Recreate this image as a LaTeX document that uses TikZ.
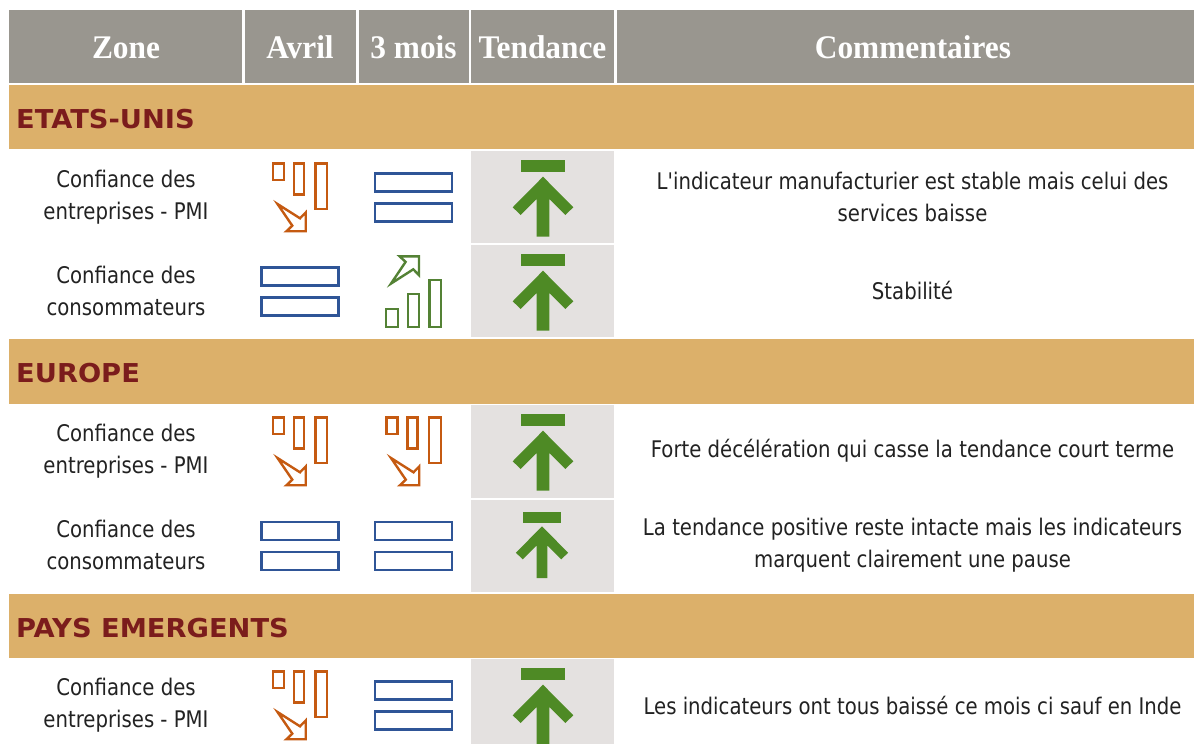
\documentclass[tikz,border=0pt]{standalone}
\usepackage{fontspec}
\newfontfamily\hdrfont{Liberation Serif}[FakeStretch=0.95]
\newfontfamily\bodyfont{DejaVu Sans}[FakeStretch=0.86]
\newfontfamily\bandfont{DejaVu Sans}[FakeStretch=1.05]
\definecolor{hdrgrey}{HTML}{99968F}
\definecolor{tan}{HTML}{DCB06A}
\definecolor{cellgrey}{HTML}{E4E1E0}
\definecolor{trendgreen}{HTML}{4E8A25}
\definecolor{orangeic}{HTML}{C55A11}
\definecolor{blueic}{HTML}{2F5597}
\definecolor{greenic}{HTML}{548235}
\definecolor{bandred}{HTML}{7B1C1C}
\definecolor{bodytxt}{HTML}{222222}
\tikzset{
  hdr/.style={font=\hdrfont\bfseries\fontsize{33}{36}\selectfont, text=white, anchor=base, inner sep=0pt},
  band/.style={font=\bandfont\bfseries\fontsize{26}{30}\selectfont, text=bandred, anchor=base west, inner sep=0pt},
  body/.style={font=\bodyfont\fontsize{22.9}{31.5}\selectfont, text=bodytxt, align=center, inner sep=0pt},
  hdrcell/.style={fill=hdrgrey, draw=none},
  bandcell/.style={fill=tan, draw=none},
  greycell/.style={fill=cellgrey, draw=none},
  downicon/.pic={
    \draw[orangeic, line width=2.4pt, line join=miter]
      (-27.2,12.4) rectangle (-16.1,28.9)
      (-6.2,12.4) rectangle (3.9,43.6)
      (15.4,12.4) rectangle (27.2,57.9);
    \draw[orangeic, line width=2.4pt, line join=miter]
      (-22.5,53) -- (0,67.3) -- (5.7,61.5) -- (5.7,80.2) -- (-13.5,80.2) -- (-7.7,74.7) -- cycle;
  },
  upicon/.pic={
    \draw[greenic, line width=2.4pt, line join=miter]
      (-27.3,64.2) rectangle (-15.7,81.8)
      (-5.8,49.2) rectangle (5.3,81.8)
      (16,34.9) rectangle (27.6,81.8);
    \draw[greenic, line width=2.4pt, line join=miter]
      (5.5,11.4) -- (5.5,30.2) -- (-0.2,24.3) -- (-22.5,38.6) -- (-7.9,16.9) -- (-13.8,11.4) -- cycle;
  },
  eqicon/.pic={
    \draw[blueic, line width=2.4pt]
      (-38.5,22.5) rectangle (38.5,40.5)
      (-38.5,52.5) rectangle (38.5,70.5);
  },
  trend/.pic={
    \fill[trendgreen] (-22.3,9) rectangle (22.3,21.3);
    \fill[trendgreen] (0,25.7) -- (30.3,56.3) -- (22.3,64) -- (6.3,48) -- (6.3,85.7)
      -- (-6.3,85.7) -- (-6.3,48) -- (-22.3,64) -- (-30.3,56.3) -- cycle;
  },
}
\begin{document}
\begin{tikzpicture}[x=1pt,y=-1pt]
\fill[white] (0,0) rectangle (1194,744);
\useasboundingbox (0,0) rectangle (1194,744);
\begin{scope}
\clip (0,0) rectangle (1194,744);
% header cells
\fill[hdrcell] (9,10) rectangle (242,83);
\fill[hdrcell] (244.5,10) rectangle (356,83);
\fill[hdrcell] (358.5,10) rectangle (469,83);
\fill[hdrcell] (471,10) rectangle (614,83);
\fill[hdrcell] (616.5,10) rectangle (1194,83);
% bands
\fill[bandcell] (9,85) rectangle (1194,149);
\fill[bandcell] (9,339) rectangle (1194,403.5);
\fill[bandcell] (9,594) rectangle (1194,657.7);
% tendance grey cells
\fill[greycell] (471,151) rectangle (614,243);
\fill[greycell] (471,245) rectangle (614,337);
\fill[greycell] (471,405) rectangle (614,497.5);
\fill[greycell] (471,499.5) rectangle (614,591.5);
\fill[greycell] (471,659) rectangle (614,744);
\end{scope}
% header texts
\node[hdr] (hzone) at (126,58) {Zone};
\node[hdr] (havril) at (300,58) {Avril};
\node[hdr] (h3m) at (413.5,58) {3 mois};
\node[hdr] (htend) at (542.5,58) {Tendance};
\node[hdr] (hcomm) at (913,58) {Commentaires};
% band labels
\node[band] (bus) at (16,128.5) {ETATS-UNIS};
\node[band] (beu) at (16,382.5) {EUROPE};
\node[band] (bem) at (16,637) {PAYS EMERGENTS};
% row 1
\node[body] (z1) at (126,197) {Confiance des\\entreprises - PMI};
\pic at (300,151) {downicon};
\pic at (413.5,151) {eqicon};
\pic at (543,151) {trend};
\node[body] (c1) at (912.5,197) {L'indicateur manufacturier est stable mais celui des\\services baisse};
% row 2
\node[body] (z2) at (126,291) {Confiance des\\consommateurs};
\pic at (300,245) {eqicon};
\pic at (413.5,245) {upicon};
\pic at (543,245) {trend};
\node[body] (c2) at (912.5,291) {Stabilité};
% row 3
\node[body] (z3) at (126,451) {Confiance des\\entreprises - PMI};
\pic at (300,405) {downicon};
\pic at (413.5,405) {downicon};
\pic at (543,405) {trend};
\node[body] (c3) at (912.5,451) {Forte décélération qui casse la tendance court terme};
% row 4
\node[body] (z4) at (126,545) {Confiance des\\consommateurs};
\pic at (300,499.5) {eqicon};
\pic at (413.5,499.5) {eqicon};
\pic[scale=0.862] at (542,504.2) {trend};
\node[body] (c4) at (912.5,545) {La tendance positive reste intacte mais les indicateurs\\marquent clairement une pause};
% row 5
\node[body] (z5) at (126,705) {Confiance des\\entreprises - PMI};
\pic at (300,659) {downicon};
\pic at (413.5,659) {eqicon};
\begin{scope}
\clip (471,659) rectangle (614,744);
\pic at (543,659) {trend};
\end{scope}
\node[body] (c5) at (912.5,705) {Les indicateurs ont tous baissé ce mois ci sauf en Inde};
\end{tikzpicture}
\end{document}
